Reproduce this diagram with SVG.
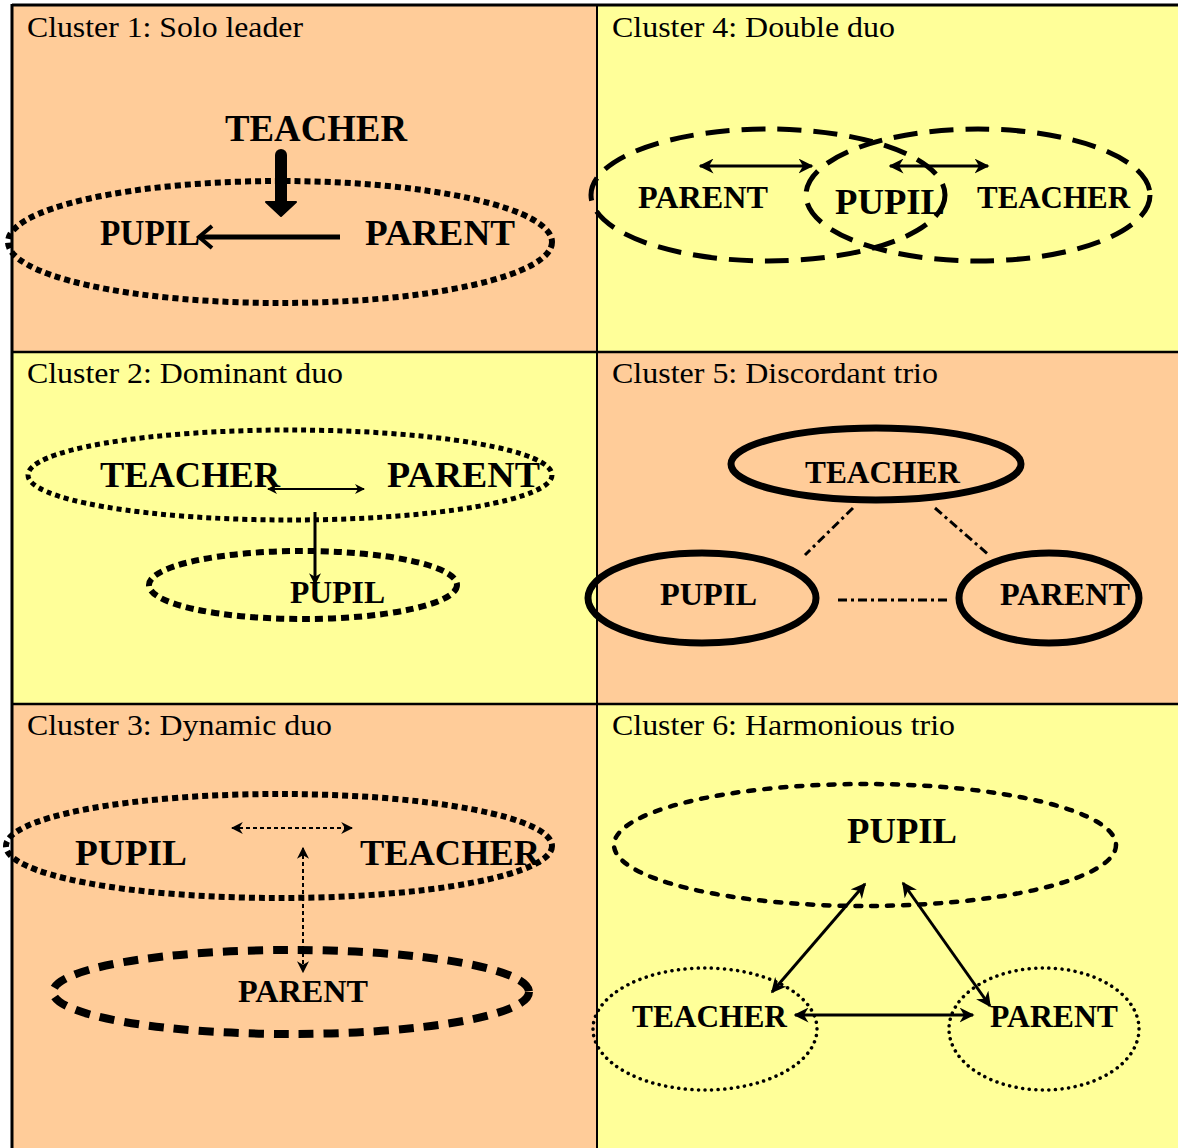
<svg xmlns="http://www.w3.org/2000/svg" width="1178" height="1148" viewBox="0 0 1178 1148">
<style>
.title{font-family:"Liberation Serif","Times New Roman",serif;font-size:30px;fill:#000}
.lbl{font-family:"Liberation Serif","Times New Roman",serif;font-weight:bold;fill:#000}
.sq{fill:none;stroke:#000;stroke-linecap:butt}
.solid{fill:none;stroke:#000}
.dots{fill:none;stroke:#000;stroke-linecap:round}
.ln{fill:none;stroke:#000}
</style>
<defs>
<marker id="ah" viewBox="0 0 10 10" refX="9" refY="5" markerWidth="5" markerHeight="5" orient="auto-start-reverse" markerUnits="strokeWidth">
<path d="M0,0 L10,5 L0,10 L3,5 Z" fill="#000"/>
</marker>
<marker id="ahs" viewBox="0 0 10 10" refX="9" refY="5" markerWidth="4" markerHeight="4" orient="auto-start-reverse" markerUnits="strokeWidth">
<path d="M0,0 L10,5 L0,10 L3,5 Z" fill="#000"/>
</marker>
<marker id="aht" viewBox="0 0 10 10" refX="9" refY="5" markerWidth="6" markerHeight="6" orient="auto-start-reverse" markerUnits="strokeWidth">
<path d="M0,0 L10,5 L0,10 L3,5 Z" fill="#000"/>
</marker>
</defs>
<rect x="0" y="0" width="1178" height="1148" fill="#fff"/>
<g id="panels">
<rect x="12" y="5" width="585" height="347" fill="#FFCC99"/>
<rect x="597" y="5" width="581" height="347" fill="#FFFF99"/>
<rect x="12" y="352" width="585" height="352" fill="#FFFF99"/>
<rect x="597" y="352" width="581" height="352" fill="#FFCC99"/>
<rect x="12" y="704" width="585" height="444" fill="#FFCC99"/>
<rect x="597" y="704" width="581" height="444" fill="#FFFF99"/>
<line x1="12" y1="5" x2="1178" y2="5" stroke="#000" stroke-width="3"/>
<line x1="12" y1="4" x2="12" y2="1148" stroke="#000" stroke-width="3"/>
<line x1="597" y1="5" x2="597" y2="1148" stroke="#000" stroke-width="2"/>
<line x1="12" y1="352" x2="1178" y2="352" stroke="#000" stroke-width="2.5"/>
<line x1="12" y1="704" x2="1178" y2="704" stroke="#000" stroke-width="2.5"/>
</g>
<g id="titles">
<text class="title" x="27" y="37" textLength="276" lengthAdjust="spacingAndGlyphs">Cluster 1: Solo leader</text>
<text class="title" x="612" y="37" textLength="283" lengthAdjust="spacingAndGlyphs">Cluster 4: Double duo</text>
<text class="title" x="27" y="383" textLength="316" lengthAdjust="spacingAndGlyphs">Cluster 2: Dominant duo</text>
<text class="title" x="612" y="383" textLength="326" lengthAdjust="spacingAndGlyphs">Cluster 5: Discordant trio</text>
<text class="title" x="27" y="735" textLength="305" lengthAdjust="spacingAndGlyphs">Cluster 3: Dynamic duo</text>
<text class="title" x="612" y="735" textLength="343" lengthAdjust="spacingAndGlyphs">Cluster 6: Harmonious trio</text>
</g>
<!-- Cluster 1 -->
<g id="c1-group"><ellipse class="sq" cx="280" cy="242" rx="272" ry="61" stroke-width="6" stroke-dasharray="6 4"/></g>
<g id="c1-teacher"><text class="lbl" x="225" y="141" font-size="37" textLength="182" lengthAdjust="spacingAndGlyphs">TEACHER</text></g>
<g id="c1-pupil"><text class="lbl" x="100" y="245" font-size="36" textLength="100" lengthAdjust="spacingAndGlyphs">PUPIL</text></g>
<g id="c1-parent"><text class="lbl" x="365" y="245" font-size="36" textLength="150" lengthAdjust="spacingAndGlyphs">PARENT</text></g>
<!-- Cluster 4 -->
<g id="c4-left"><ellipse class="sq" cx="768" cy="195" rx="177" ry="66" stroke-width="5" stroke-dasharray="24 12"/></g>
<g id="c4-right"><ellipse class="sq" cx="978" cy="195" rx="172" ry="66" stroke-width="5" stroke-dasharray="24 12"/></g>
<g id="c4-parent"><text class="lbl" x="638" y="208" font-size="32" textLength="130" lengthAdjust="spacingAndGlyphs">PARENT</text></g>
<g id="c4-pupil"><text class="lbl" x="835" y="214" font-size="36" textLength="110" lengthAdjust="spacingAndGlyphs">PUPIL</text></g>
<g id="c4-teacher"><text class="lbl" x="977" y="208" font-size="31" textLength="153" lengthAdjust="spacingAndGlyphs">TEACHER</text></g>
<!-- Cluster 2 -->
<g id="c2-duo"><ellipse class="sq" cx="290" cy="475" rx="262" ry="45" stroke-width="5" stroke-dasharray="5 4"/></g>
<g id="c2-pupilring"><ellipse class="sq" cx="303" cy="585" rx="154" ry="34" stroke-width="6" stroke-dasharray="8 5"/></g>
<g id="c2-teacher"><text class="lbl" x="100" y="487" font-size="36" textLength="180" lengthAdjust="spacingAndGlyphs">TEACHER</text></g>
<g id="c2-parent"><text class="lbl" x="387" y="487" font-size="36" textLength="153" lengthAdjust="spacingAndGlyphs">PARENT</text></g>
<g id="c2-pupil"><text class="lbl" x="290" y="603" font-size="32" textLength="95" lengthAdjust="spacingAndGlyphs">PUPIL</text></g>
<!-- Cluster 5 -->
<g id="c5-teacher"><ellipse class="solid" cx="876" cy="464" rx="145" ry="36" stroke-width="7"/><text class="lbl" x="805" y="483" font-size="31" textLength="155" lengthAdjust="spacingAndGlyphs">TEACHER</text></g>
<g id="c5-pupil"><ellipse class="solid" cx="702" cy="598" rx="114" ry="45" stroke-width="7"/><text class="lbl" x="660" y="605" font-size="31" textLength="97" lengthAdjust="spacingAndGlyphs">PUPIL</text></g>
<g id="c5-parent"><ellipse class="solid" cx="1049" cy="598" rx="90" ry="45" stroke-width="7"/><text class="lbl" x="1000" y="605" font-size="31" textLength="130" lengthAdjust="spacingAndGlyphs">PARENT</text></g>
<!-- Cluster 3 -->
<g id="c3-duo"><ellipse class="sq" cx="279" cy="846" rx="273" ry="52" stroke-width="6" stroke-dasharray="6 4"/></g>
<g id="c3-pupil"><text class="lbl" x="75" y="865" font-size="36" textLength="112" lengthAdjust="spacingAndGlyphs">PUPIL</text></g>
<g id="c3-teacher"><text class="lbl" x="360" y="865" font-size="36" textLength="180" lengthAdjust="spacingAndGlyphs">TEACHER</text></g>
<g id="c3-parent"><ellipse class="sq" cx="291" cy="992" rx="238" ry="42" stroke-width="8" stroke-dasharray="15 10"/><text class="lbl" x="238" y="1002" font-size="31" textLength="130" lengthAdjust="spacingAndGlyphs">PARENT</text></g>
<!-- Cluster 6 -->
<g id="c6-pupil"><ellipse class="dots" cx="865" cy="845" rx="251" ry="61" stroke-width="4.5" stroke-dasharray="6 10"/><text class="lbl" x="847" y="843" font-size="36" textLength="110" lengthAdjust="spacingAndGlyphs">PUPIL</text></g>
<g id="c6-teacher"><ellipse class="dots" cx="705" cy="1029" rx="112" ry="61" stroke-width="3.5" stroke-dasharray="0.1 6.5"/><text class="lbl" x="632" y="1027" font-size="31" textLength="155" lengthAdjust="spacingAndGlyphs">TEACHER</text></g>
<g id="c6-parent"><ellipse class="dots" cx="1044" cy="1029" rx="95" ry="61" stroke-width="3.5" stroke-dasharray="0.1 6.5"/><text class="lbl" x="990" y="1027" font-size="31" textLength="128" lengthAdjust="spacingAndGlyphs">PARENT</text></g>
<g id="connectors">
<line x1="281" y1="155" x2="281" y2="202" stroke="#000" stroke-width="12" stroke-linecap="round"/>
<path d="M266,202 L296,202 L281,216 Z" fill="#000" stroke="#000" stroke-width="2" stroke-linejoin="round"/>
<line x1="340" y1="237" x2="201" y2="237" stroke="#000" stroke-width="5"/>
<path d="M212,226 L199,237 L212,248" class="ln" stroke-width="4"/>
<line class="ln" x1="700" y1="166" x2="812" y2="166" stroke-width="3" marker-start="url(#ah)" marker-end="url(#ah)"/>
<line class="ln" x1="890" y1="166" x2="988" y2="166" stroke-width="3" marker-start="url(#ah)" marker-end="url(#ah)"/>
<line class="ln" x1="268" y1="489" x2="364" y2="489" stroke-width="2" marker-start="url(#ah)" marker-end="url(#ah)"/>
<line class="ln" x1="315" y1="512" x2="315" y2="584" stroke-width="3" marker-end="url(#ahs)"/>
<line class="ln" x1="853" y1="508" x2="805" y2="555" stroke-width="3" stroke-dasharray="9 4 3 4"/>
<line class="ln" x1="935" y1="508" x2="990" y2="556" stroke-width="3" stroke-dasharray="9 4 3 4"/>
<line class="ln" x1="838" y1="600" x2="948" y2="600" stroke-width="3" stroke-dasharray="9 4 3 4"/>
<line class="ln" x1="232" y1="828" x2="352" y2="828" stroke-width="2" stroke-dasharray="4 3" marker-start="url(#aht)" marker-end="url(#aht)"/>
<line class="ln" x1="303" y1="848" x2="303" y2="972" stroke-width="2" stroke-dasharray="4 3" marker-start="url(#aht)" marker-end="url(#aht)"/>
<line class="ln" x1="865" y1="884" x2="772" y2="992" stroke-width="3" marker-start="url(#ah)" marker-end="url(#ah)"/>
<line class="ln" x1="903" y1="883" x2="990" y2="1006" stroke-width="3" marker-start="url(#ah)" marker-end="url(#ah)"/>
<line class="ln" x1="795" y1="1015" x2="973" y2="1015" stroke-width="3" marker-start="url(#ah)" marker-end="url(#ah)"/>
</g>
</svg>
